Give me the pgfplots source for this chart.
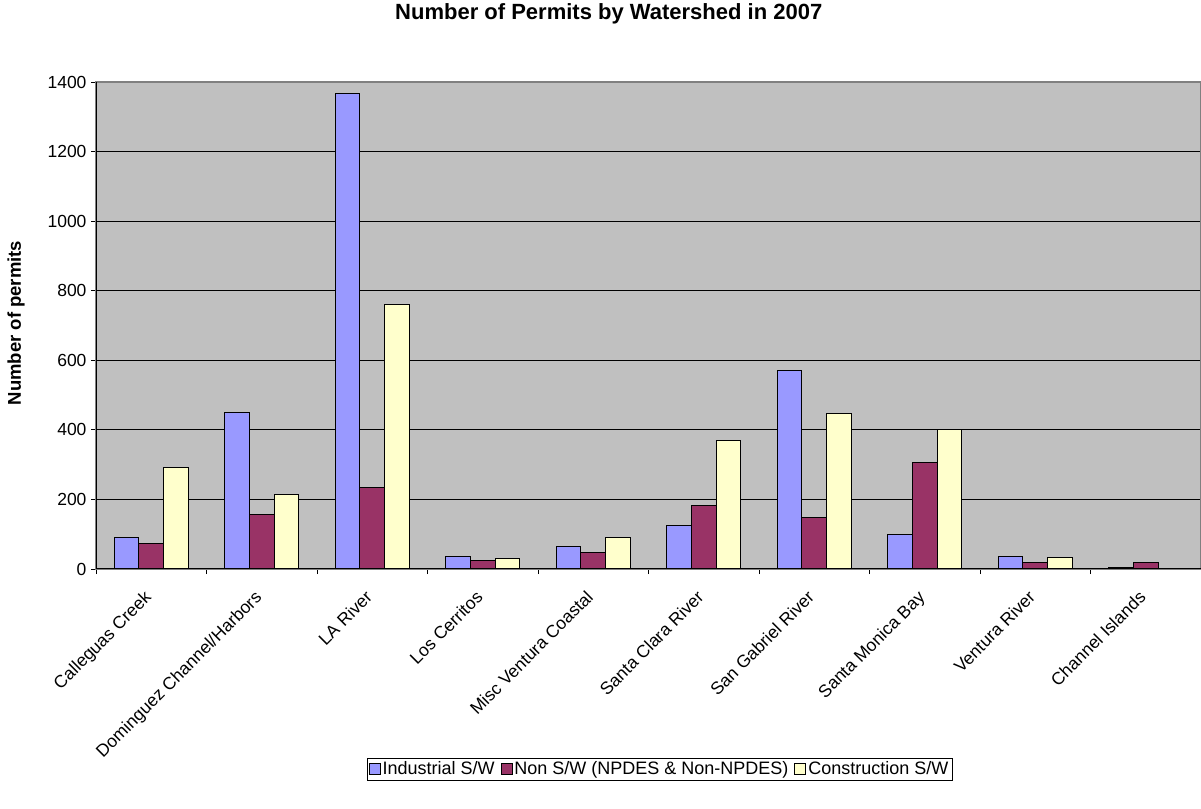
\documentclass[border=0pt]{standalone}
\usepackage{fontspec}
\setmainfont{Liberation Sans}
\usepackage{pgfplots}
\pgfplotsset{compat=1.18}
\definecolor{indblue}{HTML}{9999FF}
\definecolor{nonred}{HTML}{993366}
\definecolor{conyel}{HTML}{FFFFCC}
\definecolor{plotgray}{HTML}{C0C0C0}
\definecolor{bordergray}{HTML}{808080}
\begin{document}
\begin{tikzpicture}
\path[use as bounding box] (0,0) rectangle (1201bp,809bp);
\begin{axis}[
  at={(96bp,240bp)}, anchor=south west,
  scale only axis, width=1105bp, height=487bp,
  ybar=0pt, bar width=24.7bp,
  xmin=-0.5, xmax=9.5, ymin=0, ymax=1400,
  ytick={0,200,...,1400},
  xtick={0,...,9},
  xticklabels={Calleguas Creek, Dominguez Channel/Harbors, LA River, Los Cerritos, Misc Ventura Coastal, Santa Clara River, San Gabriel River, Santa Monica Bay, Ventura River, Channel Islands},
  minor xtick={-0.5,0.5,...,9.5},
  major x tick style={draw=none},
  minor x tick style={draw=black, line width=0.8bp},
  y tick style={draw=black, line width=0.8bp},
  tick align=outside,
  major tick length=5bp, minor tick length=5bp,
  xtick pos=bottom, ytick pos=left,
  ymajorgrids, grid style={black, line width=0.8bp},
  axis background/.style={fill=plotgray},
  axis line style={draw=bordergray, line width=1.2bp},
  /pgf/number format/assume math mode=true,
  /pgf/number format/1000 sep={},
  tick label style={font=\fontsize{17.5bp}{21bp}\selectfont},
  xticklabel style={xshift=-8bp, yshift=-14bp, rotate=45, anchor=north east, inner sep=1bp},
  yticklabel style={xshift=-1bp},
  title={\textbf{Number of Permits by Watershed in 2007}},
  title style={at={(0.464,1.117)}, anchor=base, font=\fontsize{22bp}{26bp}\selectfont},
  ylabel={\textbf{Number of permits}},
  ylabel style={at={(-0.0724,0.505)}, anchor=center, font=\fontsize{18.5bp}{22bp}\selectfont},
  legend style={at={(0.510,-0.411)}, anchor=center, draw=black, fill=white,
    font=\fontsize{18bp}{21bp}\selectfont, legend columns=-1,
    inner sep=1.5bp, /tikz/every even column/.append style={column sep=4bp}},
  legend image code/.code={\draw[#1, line width=0.8bp] (0bp,-5.5bp) rectangle (11bp,5.5bp);},
  clip=false,
]
\addplot[fill=indblue, draw=black, line width=1bp] coordinates {(0,90) (1,450) (2,1368) (3,37) (4,66) (5,125) (6,570) (7,100) (8,36) (9,3)};
\addplot[fill=nonred, draw=black, line width=1bp] coordinates {(0,73) (1,158) (2,233) (3,24) (4,48) (5,182) (6,147) (7,305) (8,20) (9,20)};
\addplot[fill=conyel, draw=black, line width=1bp] coordinates {(0,292) (1,213) (2,760) (3,30) (4,91) (5,368) (6,447) (7,402) (8,32) (9,1)};
\legend{Industrial S/W, Non S/W (NPDES \& Non-NPDES), Construction S/W}
\draw[black, line width=1bp] (axis cs:-0.5,0) -- (axis cs:9.5,0);
\draw[black, line width=1bp] (axis cs:-0.5,0) -- (axis cs:-0.5,1400);
\end{axis}
\end{tikzpicture}
\end{document}
